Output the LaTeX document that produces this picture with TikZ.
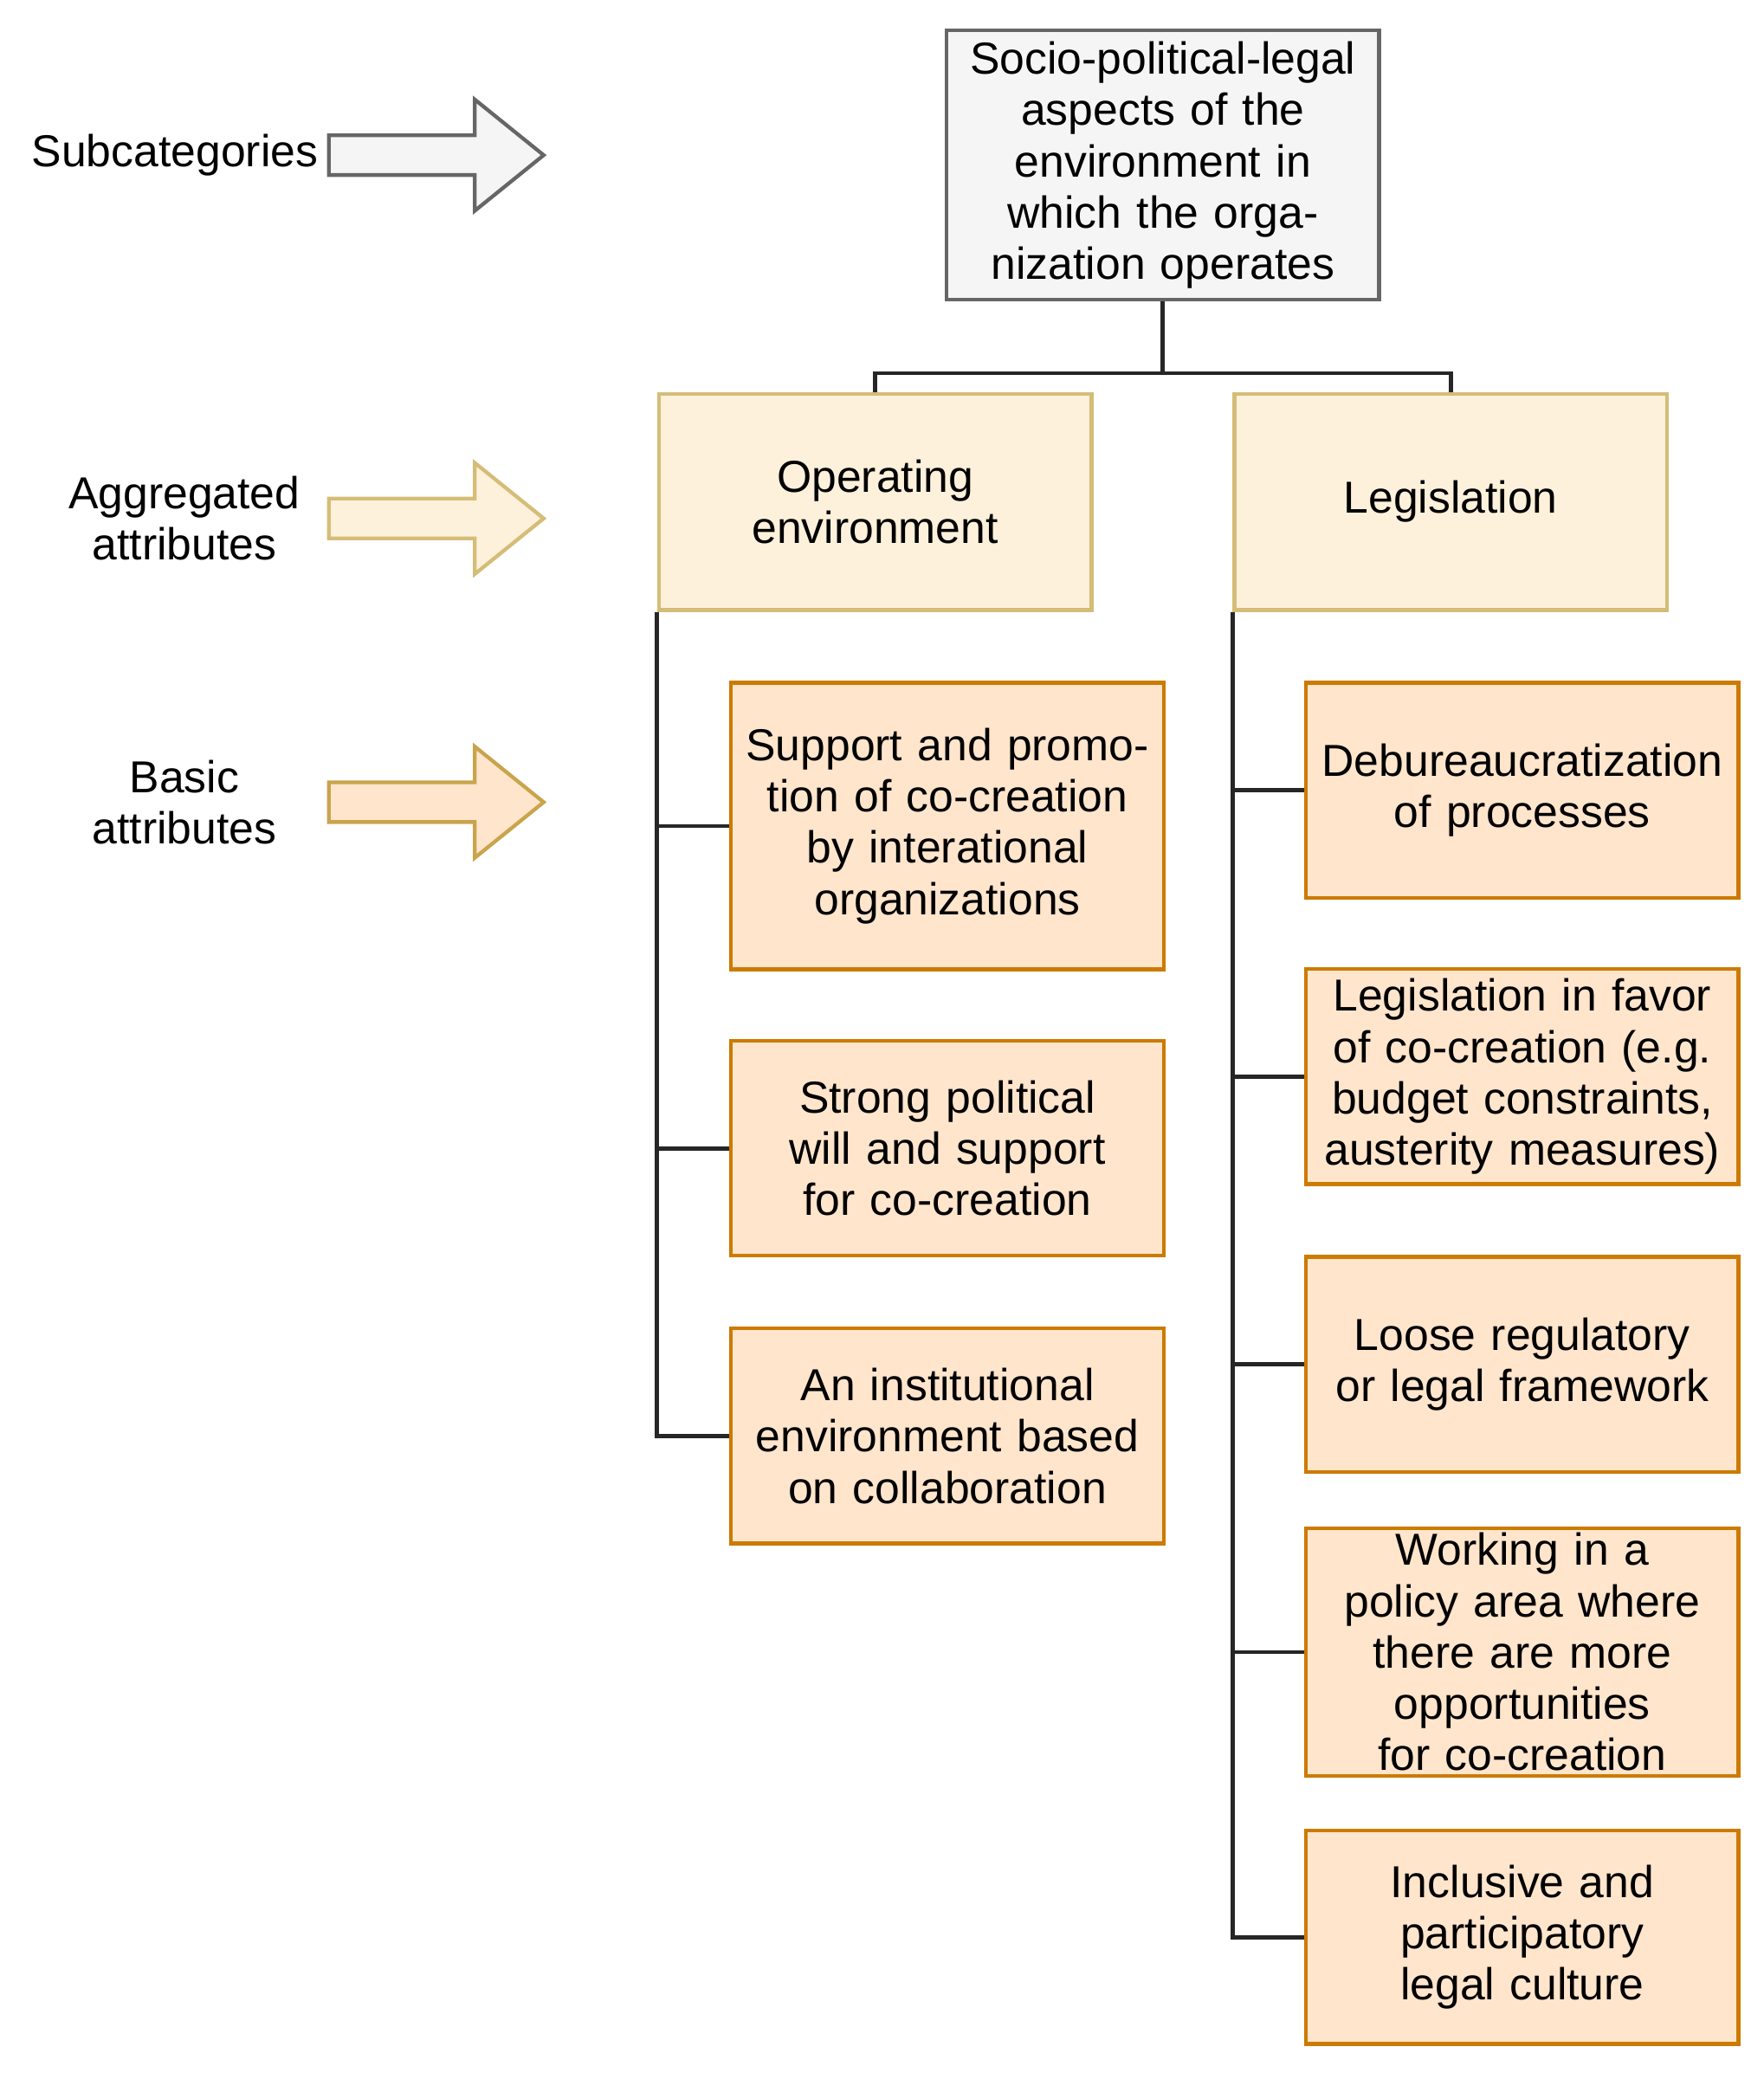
\documentclass[tikz,border=0pt]{standalone}
\usepackage{fontspec}
\setmainfont{Liberation Sans}
\begin{document}
\begin{tikzpicture}[x=0.01cm,y=-0.01cm,
  every node/.style={font=\fontsize{9.6}{11}\selectfont, align=center, inner sep=1pt},
  top/.style={draw=black!60, fill=black!4, line width=0.8pt},
  agg/.style={draw=yellow!50!orange!70!black!60, fill=yellow!15!orange!12, line width=0.8pt},
  bas/.style={draw=orange!80!yellow!80!black, fill=orange!20, line width=0.8pt},
  conn/.style={line width=0.9pt, black!85},
  box/.style={minimum width=3.26cm, text width=3.1cm}]
\useasboundingbox (0,0) rectangle (1330,1568);
\def\blockarrow#1#2#3#4{\draw[#3, line width=0.8pt, fill=#4] (248,#1-15) -- (358,#1-15) -- (358,#1-42) -- (410,#1) -- (358,#1+42) -- (358,#1+15) -- (248,#1+15) -- cycle;}
\blockarrow{117}{}{black!60}{black!4}
\blockarrow{391}{}{yellow!50!orange!70!black!60}{yellow!15!orange!12}
\blockarrow{605}{}{orange!60!yellow!70!black!70}{orange!20}
\node[anchor=east] (l1) at (244,117) {Subcategories};
\node (l2) at (139,391) {Aggregated\\attributes};
\node (l3) at (139,605) {Basic\\attributes};

\node[top, box, minimum height=2.03cm] (t) at (877,124.5) {Socio-political-legal aspects of the environment in which the organization operates};
\node[agg, box, minimum height=1.63cm] (oe) at (660,378.5) {Operating\\environment};
\node[agg, box, minimum height=1.63cm] (lg) at (1094,378.5) {Legislation};

\node[bas, box, minimum height=2.16cm] (a1) at (714.5,623) {Support and promotion of co-creation by interational organizations};
\node[bas, box, minimum height=1.62cm] (a2) at (714.5,866) {Strong political will and support for co-creation};
\node[bas, box, minimum height=1.62cm] (a3) at (714.5,1083) {An institutional environment based on collaboration};

\node[bas, box, minimum height=1.62cm] (b1) at (1148,596) {Debureaucratization of processes};
\node[bas, box, minimum height=1.62cm] (b2) at (1148,812) {Legislation in favor of co-creation (e.g. budget constraints, austerity measures)};
\node[bas, box, minimum height=1.62cm] (b3) at (1148,1029) {Loose regulatory or legal framework};
\node[bas, box, minimum height=1.62cm] (b4) at (1148,1246) {Working in a policy area where there are more opportunities for co-creation};
\node[bas, box, minimum height=1.61cm] (b5) at (1148,1461) {Inclusive and participatory legal culture};

\draw[conn] (t.south) -- ++(0,54) -| (oe.north);
\draw[conn] (t.south) -- ++(0,54) -| (lg.north);
\draw[conn] (oe.south west) |- (a3.west);
\draw[conn] (oe.south west |- a1.west) -- (a1.west);
\draw[conn] (oe.south west |- a2.west) -- (a2.west);
\draw[conn] (lg.south west) |- (b5.west);
\foreach \n in {b1,b2,b3,b4} \draw[conn] (lg.south west |- \n.west) -- (\n.west);
\end{tikzpicture}
\end{document}
